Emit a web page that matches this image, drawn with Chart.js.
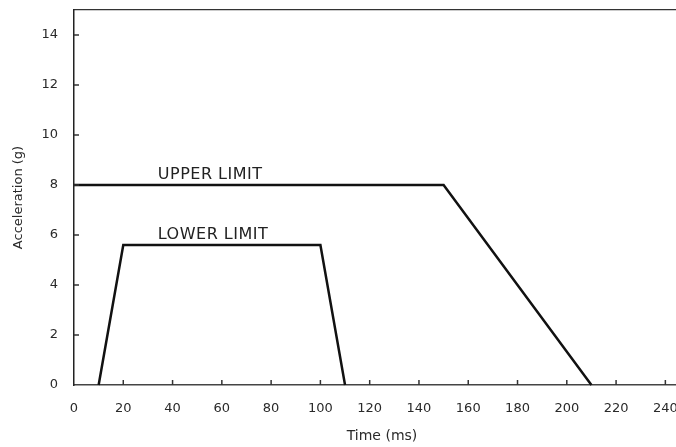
<!DOCTYPE html>
<html>
<head>
<meta charset="utf-8">
<script src="https://cdn.jsdelivr.net/npm/chart.js@4"></script>
<style>
  html, body { margin: 0; padding: 0; background: #fff; overflow: hidden; }
</style>
</head>
<body>
<canvas id="chart-limits" width="692" height="447"></canvas>
<script>
// corridor data
const upperTime = [0, 150, 210];
const upperAccel = [8, 8, 0];
const lowerTime = [10, 20, 100, 110];
const lowerAccel = [0, 5.6, 5.6, 0];
const xTicks = [0, 20, 40, 60, 80, 100, 120, 140, 160, 180, 200, 220, 240];
const yTicks = [0, 2, 4, 6, 8, 10, 12, 14];

function toPoints(xs, ys) {
    return xs.map(function (x, i) { return {x: x, y: ys[i]}; });
}

// little tick marks pointing into the plot + the two curve labels
const innerTicks = {
    id: 'innerTicks',
    afterDraw(chart) {
        const ctx = chart.ctx;
        const x = chart.scales.x;
        const y = chart.scales.y;
        ctx.save();
        ctx.strokeStyle = '#333';
        ctx.lineWidth = 1.5;
        yTicks.forEach(function (v) {
            if (v === 0) return;
            let py = y.getPixelForValue(v);
            ctx.beginPath();
            ctx.moveTo(x.left, py);
            ctx.lineTo(x.left + 5, py);
            ctx.stroke();
        });
        xTicks.forEach(function (v) {
            if (v === 0) return;
            let px = x.getPixelForValue(v);
            ctx.beginPath();
            ctx.moveTo(px, y.bottom);
            ctx.lineTo(px, y.bottom - 5);
            ctx.stroke();
        });

        ctx.fillStyle = '#222';
        ctx.font = '16px "DejaVu Sans"';
        ctx.letterSpacing = '0.5px';
        ctx.textBaseline = 'alphabetic';
        ctx.textAlign = 'left';
        ctx.fillText('UPPER LIMIT', x.getPixelForValue(34), y.getPixelForValue(8.25));
        ctx.fillText('LOWER LIMIT', x.getPixelForValue(34), y.getPixelForValue(5.85));
        ctx.restore();
    }
};

new Chart(
    document.getElementById('chart-limits'),
    {
        type: 'line',
        data: {
            datasets: [{
                label: 'Upper limit',
                data: toPoints(upperTime, upperAccel),
                borderColor: '#111',
                borderWidth: 2.5,
                pointRadius: 0,
                tension: 0,
                fill: false,
                clip: false
            }, {
                label: 'Lower limit',
                data: toPoints(lowerTime, lowerAccel),
                borderColor: '#111',
                borderWidth: 2.5,
                pointRadius: 0,
                tension: 0,
                fill: false,
                clip: false
            }]
        },
        options: {
            responsive: false,
            animation: false,
            devicePixelRatio: 1,
            layout: {padding: {top: 10, right: 2, left: 0, bottom: 0}},
            plugins: {
                legend: {display: false},
                tooltip: {enabled: false}
            },
            scales: {
                x: {
                    type: 'linear',
                    min: 0,
                    max: 250,
                    afterBuildTicks: function (s) {
                        s.ticks = xTicks.map(function (v) { return {value: v}; });
                    },
                    afterFit: function (s) {
                        s.height = 62;
                        s.paddingLeft = 0;
                        s.paddingRight = 0;
                    },
                    grid: {display: false, drawTicks: false},
                    border: {display: true, color: '#444', width: 1.5},
                    ticks: {
                        padding: 16,
                        color: '#2a2a2a',
                        font: {family: 'DejaVu Sans', size: 13}
                    },
                    title: {
                        display: true,
                        text: 'Time (ms)',
                        color: '#2a2a2a',
                        padding: {top: 0, bottom: 2},
                        font: {family: 'DejaVu Sans', size: 14}
                    }
                },
                x2: {
                    type: 'linear',
                    position: 'top',
                    min: 0,
                    max: 250,
                    afterFit: function (s) {
                        s.height = 0;
                        s.paddingLeft = 0;
                        s.paddingRight = 0;
                    },
                    grid: {display: false, drawTicks: false},
                    border: {display: true, color: '#333', width: 1.2},
                    ticks: {display: false}
                },
                y: {
                    min: 0,
                    max: 15,
                    afterBuildTicks: function (s) {
                        s.ticks = yTicks.map(function (v) { return {value: v}; });
                    },
                    afterFit: function (s) {
                        s.width = 74;
                        s.paddingTop = 0;
                        s.paddingBottom = 0;
                    },
                    grid: {display: false, drawTicks: false},
                    border: {display: true, color: '#222', width: 1.5},
                    ticks: {
                        padding: 16,
                        color: '#2a2a2a',
                        font: {family: 'DejaVu Sans', size: 13}
                    },
                    title: {
                        display: true,
                        text: 'Acceleration (g)',
                        color: '#2a2a2a',
                        padding: {top: 11, bottom: 0},
                        font: {family: 'DejaVu Sans', size: 13}
                    }
                }
            }
        },
        plugins: [innerTicks]
    }
);
</script>
</body>
</html>
